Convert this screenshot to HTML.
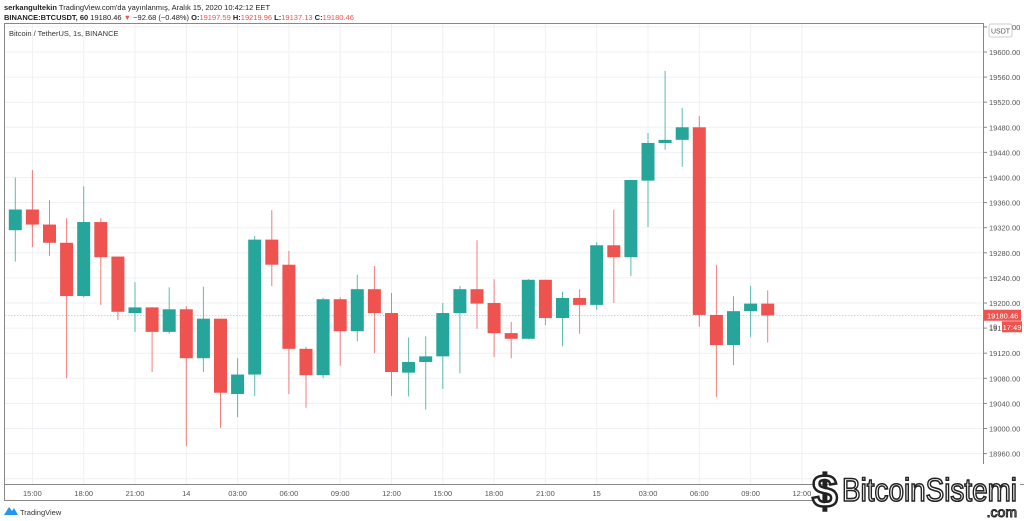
<!DOCTYPE html>
<html><head><meta charset="utf-8">
<style>
body{margin:0;background:#fff;width:1024px;height:521px;overflow:hidden;font-family:"Liberation Sans",sans-serif}
#hdr{position:absolute;left:4px;top:3px;font-size:7.5px;color:#222;line-height:10px}
#hdr b{font-weight:bold}
.r{color:#ef5350}
svg{position:absolute;left:0;top:0}
</style></head><body>
<div id="hdr">
<div><b>serkangultekin</b> TradingView.com'da yayınlanmış, Aralık 15, 2020 10:42:12 EET</div>
<div><b>BINANCE:BTCUSDT, 60</b> 19180.46 <span class="r">▼</span> −92.68 (−0.48%) <b>O:</b><span class="r">19197.59</span> <b>H:</b><span class="r">19219.96</span> <b>L:</b><span class="r">19137.13</span> <b>C:</b><span class="r">19180.46</span></div>
</div>
<svg id="chart" width="1024" height="521"></svg>
<script>
const opens=[19316,19349,19325,19296,19211,19329,19274,19184,19193,19154,19190,19112,19175,19055,19086,19301,19261,19127,19085,19206,19155,19222,19184,19089,19106,19115,19184,19222,19200,19152,19143,19237,19176,19208,19197,19292,19273,19395,19455,19460,19480,19181,19133,19187,19199];
const closes=[19349,19325,19296,19211,19329,19273,19186,19193,19154,19190,19112,19175,19057,19086,19301,19261,19127,19085,19206,19155,19222,19184,19090,19106,19115,19184,19222,19199,19152,19143,19237,19176,19208,19197,19292,19273,19396,19455,19460,19480,19181,19133,19187,19199,19180];
const highs=[19400,19412,19364,19335,19386,19335,19274,19233,19193,19225,19195,19226,19175,19112,19307,19348,19283,19130,19208,19209,19245,19259,19216,19145,19147,19200,19227,19300,19238,19170,19238,19237,19218,19222,19297,19349,19396,19471,19570,19511,19498,19261,19211,19227,19220];
const lows=[19266,19289,19275,19080,19209,19197,19173,19154,19090,19151,18972,19090,19001,19018,19052,19227,19055,19033,19080,19100,19139,19120,19052,19051,19030,19063,19088,19159,19114,19112,19142,19165,19131,19151,19189,19200,19243,19321,19444,19417,19162,19050,19101,19146,19137];
const yTicks=[18920,18960,19000,19040,19080,19120,19160,19200,19240,19280,19320,19360,19400,19440,19480,19520,19560,19600,19640];
const xLabels=["15:00","18:00","21:00","14","03:00","06:00","09:00","12:00","15:00","18:00","21:00","15","03:00","06:00","09:00","12:00"];
const lastPrice=19180.46;

const NS="http://www.w3.org/2000/svg";
const svg=document.getElementById('chart');
const y=v=>303-(v-19200)*0.6275;
const x=i=>15.3+i*17.1;
function mk(t,a,p){const e=document.createElementNS(NS,t);for(const k in a)e.setAttribute(k,a[k]);(p||svg).appendChild(e);return e;}
// frame
const f=mk('rect',{x:4.5,y:23.5,width:979,height:477,fill:'none',stroke:'#888','stroke-width':1});


// grid
yTicks.forEach(v=>{const yy=y(v);if(yy<24||yy>484)return;
 const l=mk('line',{x1:5,x2:983,y1:yy,y2:yy,stroke:'#eef1f4','stroke-width':1});
 
 
 const tk=mk('line',{x1:983,x2:987,y1:yy,y2:yy,stroke:'#888'});
 
 
 const t=mk('text',{x:989,y:yy+3,'font-size':7.5,fill:'#555'});t.textContent=v.toFixed(2);
 
 
});
xLabels.forEach((s,k)=>{const xx=x(1+3*k);
 const l=mk('line',{x1:xx,x2:xx,y1:24,y2:484,stroke:'#eef1f4'});
 
 
 const t=mk('text',{x:xx,y:496,'font-size':7.5,fill:'#555','text-anchor':'middle'});t.textContent=s;
 
 
});
const ax=mk('line',{x1:4,x2:1024,y1:484.5,y2:484.5,stroke:'#888'});


const ax2=mk('line',{x1:983.5,x2:983.5,y1:23,y2:500,stroke:'#888'});


// price line
const pl=mk('line',{x1:5,x2:983,y1:y(lastPrice),y2:y(lastPrice),stroke:'#ef5350','stroke-width':0.6,'stroke-dasharray':'1.5,1.5',opacity:0.7});


// candles
opens.forEach((o,i)=>{const c=closes[i];const up=c>=o;const col=up?'#26a69a':'#ef5350';const cx=x(i);
 const g=mk('g',{});
 
 
 mk('line',{x1:cx,x2:cx,y1:y(highs[i]),y2:y(lows[i]),stroke:col,'stroke-width':1,opacity:0.75},g);
 const t=Math.min(y(o),y(c)),h=Math.max(1.5,Math.abs(y(o)-y(c)));
 mk('rect',{x:cx-6.5,y:t,width:13,height:h,fill:col},g);
});
// legend label
const lg=mk('text',{x:9,y:36,'font-size':7.5,fill:'#333'});lg.textContent='Bitcoin / TetherUS, 1s, BINANCE';


// USDT box
const ub=mk('rect',{x:989,y:24,width:23,height:13,rx:2,fill:'#fff',stroke:'#ccc'});


const ut=mk('text',{x:1000.5,y:33.5,'font-size':7,fill:'#555','text-anchor':'middle'});ut.textContent='USDT';


// price labels
const yp=y(lastPrice);
const pb=mk('rect',{x:984,y:yp-5.5,width:37,height:11,fill:'#ef5350'});


const pt=mk('text',{x:987,y:yp+3,'font-size':7.5,fill:'#fff'});pt.textContent=lastPrice.toFixed(2);


const p2=mk('text',{x:989,y:yp+14,'font-size':7.5,fill:'#555'});p2.textContent='19';


const cb=mk('rect',{x:1002,y:yp+6,width:20,height:11,fill:'#ef5350'});


const ct=mk('text',{x:1012,y:yp+14.5,'font-size':7.5,fill:'#fff','text-anchor':'middle'});ct.textContent='17:49';


// watermark
const wr=mk('rect',{x:830,y:464,width:190,height:57,fill:'#fff'});


const ws=mk('text',{x:812,y:507,'font-size':46,'font-weight':'bold',fill:'#fff',stroke:'#222','stroke-width':2.5});ws.textContent='$';


const wt=mk('text',{x:842,y:501,'font-size':32,fill:'#fff',stroke:'#222','stroke-width':1.6,textLength:175,lengthAdjust:'spacingAndGlyphs'});wt.textContent='BitcoinSistemi';


const wc=mk('text',{x:1017,y:517,'font-size':14,fill:'#fff',stroke:'#222','stroke-width':1,'text-anchor':'end'});wc.textContent='.com';


// tradingview logo
const tl=mk('path',{d:'M4 515 L9 507 L12 511 L14 508 L18 515 Z',fill:'#2196f3'});


const tv=mk('text',{x:20,y:515,'font-size':7.5,fill:'#333'});tv.textContent='TradingView';


</script>
</body></html>
